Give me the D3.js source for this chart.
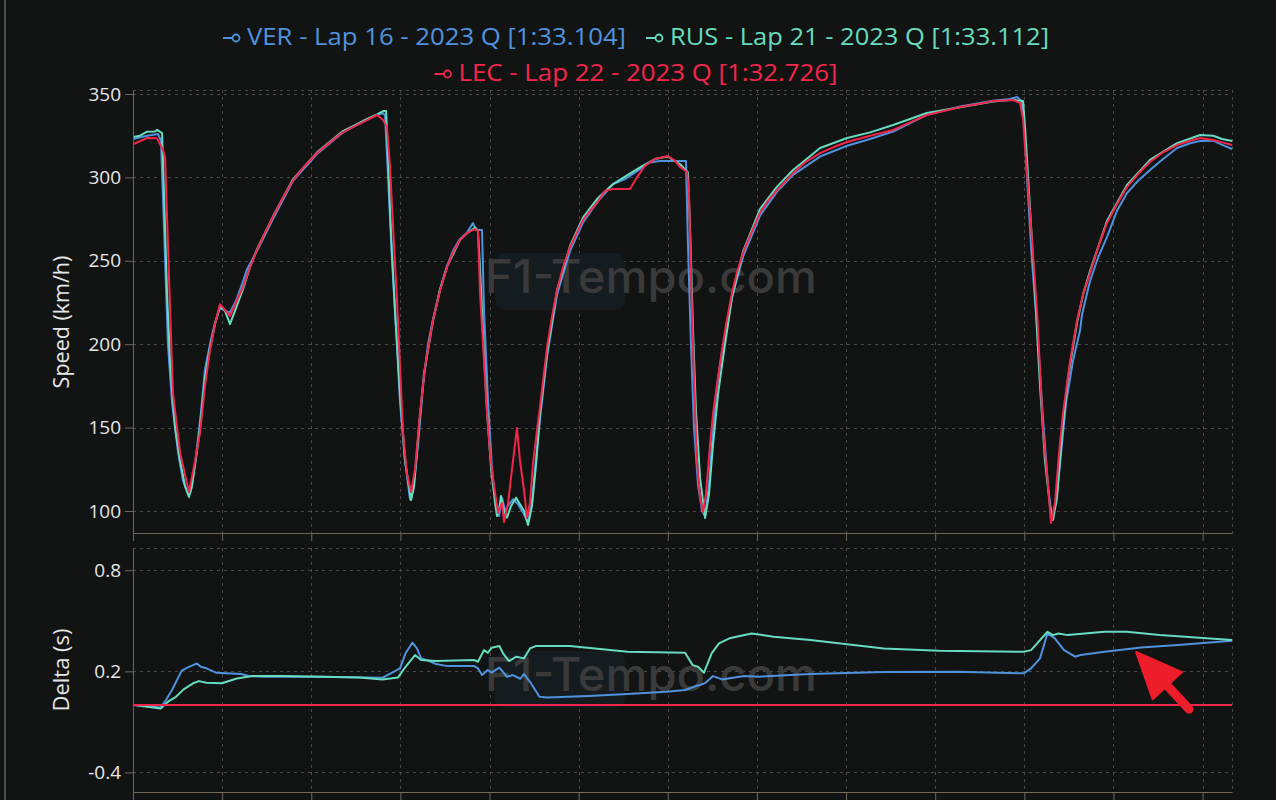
<!DOCTYPE html>
<html><head><meta charset="utf-8">
<script src="https://cdn.jsdelivr.net/npm/d3@7"></script>
<style>html,body{margin:0;padding:0;background:#121414;} svg{display:block;}</style>
</head><body><svg id="c" width="1276" height="800"></svg>
<script>
// ---------------- DATA ----------------
const drivers = ["VER", "RUS", "LEC"];
const legendLabels = ["VER - Lap 16 - 2023 Q [1:33.104]", "RUS - Lap 21 - 2023 Q [1:33.112]", "LEC - Lap 22 - 2023 Q [1:32.726]"];
const speedTicks = [100, 150, 200, 250, 300, 350];
const deltaTicks = [-0.4, 0.2, 0.8];
const distanceTicks = [0, 500, 1000, 1500, 2000, 2500, 3000, 3500, 4000, 4500, 5000, 5500, 6000];

// [distance m, speed km/h]
const verSpeed = [[0,323],[79,325],[140,326],[157,322],[174,270],[196,200],[219,165],[253,135],[281,118],[309,110],[325,112],[354,133],[382,160],[404,185],[432,200],[460,213],[488,222],[516,220],[544,219],[578,226],[612,236],[640,245],[696,256],[785,275],[898,298],[1032,314],[1178,327],[1290,333.5],[1369,337.5],[1403,338.5],[1414,337],[1431,300],[1453,250],[1475,210],[1498,165],[1526,130],[1554,107],[1571,112],[1599,140],[1627,175],[1655,200],[1683,215],[1722,233],[1762,247],[1795,256],[1834,263],[1874,267],[1907,272.7],[1924,268.5],[1958,268.5],[1969,220],[1992,165],[2014,125],[2036,103],[2053,97],[2070,108],[2087,100],[2109,104],[2132,107],[2160,104],[2188,99],[2216,93],[2238,105],[2255,125],[2283,155],[2323,193],[2379,230],[2452,256],[2525,273],[2603,285],[2693,296],[2760,299],[2844,305],[2900,309],[2956,309.8],[3102,309.8],[3113,260],[3130,200],[3147,150],[3170,115],[3192,100],[3209,97],[3231,115],[3254,150],[3276,175],[3304,195],[3360,228],[3422,252.5],[3517,277],[3613,291.5],[3703,301.5],[3854,312.5],[4006,319],[4135,323],[4264,327.5],[4453,337.5],[4640,342.5],[4825,346],[4920,347],[4960,348.2],[4982,346],[4998,335],[5015,300],[5043,250],[5072,210],[5105,155],[5133,115],[5155,95],[5178,105],[5200,128],[5234,165],[5273,190],[5313,208.5],[5324,218],[5369,238],[5414,252],[5464,264.3],[5520,280],[5576,290.6],[5638,298],[5705,304.4],[5778,311],[5857,317.6],[5930,320.5],[5986,321.8],[6059,322],[6110,319.5],[6166,317]];

const rusSpeed = [[0,324.2],[39,325],[79,327.4],[123,327.5],[135,328.5],[163,326.6],[174,290],[191,230],[208,190],[236,150],[264,130],[292,115],[314,108.4],[331,115],[354,132],[376,150],[404,180],[432,198],[460,212],[488,223],[516,220],[544,212],[572,220],[617,233],[656,246],[696,257],[785,276.5],[898,299],[1032,315],[1178,327.8],[1290,333.8],[1369,337.8],[1403,339.8],[1420,339.8],[1431,310],[1448,265],[1470,220],[1498,170],[1526,130],[1560,106.6],[1577,115],[1604,150],[1632,182],[1683,214],[1722,232.5],[1762,246.5],[1834,262.5],[1874,266.5],[1901,268.5],[1919,270],[1935,268],[1947,245],[1964,205],[1986,160],[2009,125],[2031,105],[2042,97],[2053,100],[2064,109],[2081,100],[2098,96],[2121,103],[2149,108],[2171,104],[2194,100],[2216,91.6],[2238,103],[2261,128],[2283,158],[2323,195],[2379,232.5],[2452,259],[2525,276],[2603,287],[2693,296],[2760,300.5],[2844,306],[2928,311],[3001,312.5],[3068,308],[3113,303],[3125,270],[3141,210],[3158,160],[3181,120],[3209,95.8],[3231,110],[3254,140],[3282,170],[3310,192],[3360,228],[3422,255.5],[3517,281],[3613,294.5],[3703,304.4],[3854,317.6],[4006,323.6],[4135,327],[4264,331.4],[4453,338.6],[4640,342],[4825,345.5],[4937,346.5],[4993,345.8],[5004,330],[5027,290],[5055,240],[5088,175],[5116,130],[5144,103],[5161,94.6],[5183,108],[5211,145],[5245,180],[5296,213],[5330,230],[5369,244],[5464,274],[5576,295.5],[5705,310.5],[5857,320.5],[5986,325.4],[6059,325],[6110,323],[6166,321.8]];

const lecSpeed = [[0,319.8],[79,323.6],[135,323.4],[168,316.4],[180,312],[202,240],[224,170.8],[264,135],[314,111.4],[348,130],[376,146.8],[404,175],[432,196.5],[460,212],[488,224],[544,216.9],[578,225],[617,234.3],[656,246],[696,256.5],[741,267],[785,276.3],[842,288],[898,298.4],[965,307],[1032,314.6],[1105,321],[1178,327.2],[1290,333.2],[1369,337.4],[1403,334.4],[1425,330],[1442,306],[1459,270],[1481,226.5],[1515,146.7],[1537,122],[1560,111.4],[1582,125],[1610,158.8],[1638,186.3],[1683,214.5],[1722,232],[1762,246.3],[1795,255],[1834,262.5],[1874,266.7],[1919,269],[1935,268],[1947,230],[1969,190],[1986,158.8],[2003,135],[2020,118.6],[2048,98.8],[2070,104.8],[2081,93.4],[2104,104.8],[2126,125],[2154,149.8],[2171,130],[2194,112],[2210,96],[2227,105],[2244,128.8],[2266,148],[2283,162.4],[2323,198.4],[2351,217],[2379,232.5],[2412,246],[2452,258.3],[2491,267],[2525,274.5],[2564,280],[2603,284.7],[2648,292],[2693,293],[2788,293],[2827,300],[2872,307],[2928,311],[3001,312.8],[3041,310],[3068,306.3],[3108,303.2],[3119,290],[3136,218.7],[3147,180],[3164,128.8],[3181,108],[3198,99.4],[3214,110],[3237,140],[3254,158.7],[3293,188.7],[3327,212],[3360,230.7],[3388,243],[3422,254.7],[3461,265],[3517,278.7],[3562,286],[3613,292.4],[3703,302.6],[3770,309],[3854,314.6],[3938,318.5],[4006,321.2],[4135,325],[4264,328.4],[4359,333],[4453,337.4],[4554,340],[4640,342.2],[4741,344],[4825,345.8],[4937,346.4],[4976,344.6],[4993,335],[5004,318],[5032,278.7],[5072,218.7],[5105,148.6],[5127,122.8],[5150,92.8],[5172,105],[5195,135],[5217,158.7],[5257,190],[5296,214.5],[5330,230],[5369,242.7],[5414,258],[5464,272.7],[5520,284],[5576,294.2],[5638,302],[5705,309.2],[5778,315],[5857,319.4],[5930,322],[5986,323.6],[6059,322.4],[6110,321],[6166,319.4]];

// [distance m, delta s] relative to LEC
const verDelta = [[6,0],[155,-0.014],[185,0.03],[219,0.089],[273,0.204],[305,0.222],[359,0.247],[380,0.227],[412,0.218],[466,0.192],[606,0.184],[649,0.172],[735,0.168],[1055,0.168],[1400,0.162],[1464,0.198],[1498,0.218],[1529,0.307],[1567,0.37],[1593,0.336],[1616,0.277],[1658,0.263],[1700,0.243],[1765,0.231],[1915,0.231],[1935,0.218],[1958,0.178],[1990,0.208],[2012,0.192],[2055,0.222],[2098,0.168],[2130,0.178],[2173,0.156],[2193,0.184],[2227,0.138],[2280,0.049],[2322,0.045],[2558,0.053],[2774,0.065],[2990,0.079],[3097,0.089],[3158,0.113],[3181,0.119],[3212,0.132],[3254,0.172],[3304,0.152],[3428,0.172],[3511,0.168],[3798,0.184],[4212,0.196],[4623,0.198],[4996,0.188],[5038,0.218],[5088,0.277],[5130,0.425],[5171,0.396],[5223,0.326],[5285,0.287],[5315,0.297],[5450,0.316],[5655,0.342],[5862,0.356],[6165,0.382]];

const rusDelta = [[6,0],[155,-0.02],[196,0.02],[241,0.049],[284,0.093],[337,0.129],[370,0.142],[412,0.132],[498,0.129],[583,0.158],[670,0.172],[841,0.172],[1271,0.164],[1400,0.152],[1487,0.164],[1529,0.227],[1582,0.297],[1616,0.267],[1700,0.261],[1915,0.267],[1935,0.257],[1969,0.326],[1990,0.31],[2012,0.34],[2055,0.35],[2076,0.307],[2109,0.261],[2151,0.287],[2193,0.277],[2227,0.336],[2259,0.35],[2451,0.35],[2774,0.316],[3097,0.31],[3139,0.237],[3170,0.227],[3203,0.192],[3246,0.307],[3287,0.366],[3346,0.396],[3470,0.425],[3593,0.405],[3800,0.386],[4212,0.336],[4522,0.322],[4996,0.316],[5038,0.326],[5130,0.435],[5161,0.415],[5192,0.425],[5243,0.415],[5450,0.435],[5574,0.435],[5759,0.415],[6165,0.386]];

const lecDelta = [[0,0],[6165,0]];

// annotation arrow (tip, tail) in data units of the delta panel
const arrowTip = [5627, 0.315];
const arrowTail = [5924, -0.024];

// ---------------- STYLE / LAYOUT ----------------
const colors = {VER: "#4f93df", RUS: "#67dcbf", LEC: "#f2264b"};
const bg = "#121414", gridC = "#4a4a4a", axisC = "#6f675c", textC = "#e6e6e6";
const fontF = "'Open Sans', 'Noto Sans', sans-serif";
const L = 133, R = 1232;
const sp = {top: 90, bottom: 533};
const dp = {top: 548, bottom: 792};

const svg = d3.select("#c");
svg.append("rect").attr("width", 1276).attr("height", 800).attr("fill", bg);
svg.append("line").attr("x1", 5).attr("x2", 5).attr("y1", 0).attr("y2", 800)
  .attr("stroke", "#4d4d4d").attr("stroke-width", 2);

const x = d3.scaleLinear().domain([0, 6165]).range([L, R]);
const yS = d3.scaleLinear().domain([86.8, 352.4]).range([sp.bottom, sp.top]);
const yD = d3.scaleLinear().domain([-0.516, 0.932]).range([dp.bottom, dp.top]);

function watermark(cy) {
  const g = svg.append("g");
  g.append("rect").attr("x", 495).attr("y", cy - 24).attr("width", 130).attr("height", 57)
    .attr("rx", 10).attr("fill", "#141c20");
  g.append("text").attr("x", 485).attr("y", cy + 16).attr("font-family", "Inter, 'Open Sans', sans-serif")
    .attr("font-weight", 500).attr("font-size", 46).attr("fill", "#3a3a3a")
    .attr("textLength", 332).attr("lengthAdjust", "spacingAndGlyphs").text("F1-Tempo.com");
}

function panel(y, ticks, top, bottom) {
  const g = svg.append("g");
  g.selectAll(".hg").data(ticks).join("line")
    .attr("x1", L).attr("x2", R).attr("y1", d => Math.round(y(d)) + 0.5).attr("y2", d => Math.round(y(d)) + 0.5)
    .attr("stroke", gridC).attr("stroke-dasharray", "3,4");
  g.selectAll(".vg").data(distanceTicks.filter(d => d > 0)).join("line")
    .attr("x1", d => Math.round(x(d)) + 0.5).attr("x2", d => Math.round(x(d)) + 0.5).attr("y1", top).attr("y2", bottom)
    .attr("stroke", gridC).attr("stroke-dasharray", "3,4");
  g.append("line").attr("x1", L).attr("x2", R).attr("y1", top + 0.5).attr("y2", top + 0.5)
    .attr("stroke", gridC).attr("stroke-dasharray", "3,4");
  g.append("line").attr("x1", R + 0.5).attr("x2", R + 0.5).attr("y1", top).attr("y2", bottom)
    .attr("stroke", gridC).attr("stroke-dasharray", "3,4");
  return g;
}

function axes(y, ticks, bottom, fmt) {
  const ya = svg.append("g").attr("transform", `translate(${L},0)`)
    .call(d3.axisLeft(y).tickValues(ticks).tickSize(8).tickSizeOuter(0).tickPadding(4).tickFormat(fmt));
  ya.selectAll("path,line").attr("stroke", axisC);
  ya.selectAll("text").attr("fill", textC).attr("font-size", 19).attr("font-family", fontF);
  const xa = svg.append("g").attr("transform", `translate(0,${bottom})`)
    .call(d3.axisBottom(x).tickValues(distanceTicks).tickSize(8).tickSizeOuter(0).tickFormat(""));
  xa.selectAll("path,line").attr("stroke", axisC);
}

panel(yS, speedTicks, sp.top, sp.bottom);
panel(yD, deltaTicks, dp.top, dp.bottom);
watermark(277);
watermark(675);

const lineS = d3.line().x(d => x(d[0])).y(d => yS(d[1]));
const lineD = d3.line().x(d => x(d[0])).y(d => yD(d[1]));

const speedSets = {VER: verSpeed, RUS: rusSpeed, LEC: lecSpeed};
const deltaSets = {VER: verDelta, RUS: rusDelta, LEC: lecDelta};

svg.append("clipPath").attr("id", "cs").append("rect")
  .attr("x", L).attr("y", sp.top).attr("width", R - L + 1).attr("height", sp.bottom - sp.top);
svg.append("clipPath").attr("id", "cd").append("rect")
  .attr("x", L).attr("y", dp.top).attr("width", R - L + 1).attr("height", dp.bottom - dp.top);

const gS = svg.append("g").attr("clip-path", "url(#cs)");
const gD = svg.append("g").attr("clip-path", "url(#cd)");
drivers.forEach(k => {
  gS.append("path").datum(speedSets[k]).attr("d", lineS).attr("fill", "none")
    .attr("stroke", colors[k]).attr("stroke-width", 2).attr("stroke-linejoin", "round");
  gD.append("path").datum(deltaSets[k]).attr("d", lineD).attr("fill", "none")
    .attr("stroke", colors[k]).attr("stroke-width", 2).attr("stroke-linejoin", "round");
});

axes(yS, speedTicks, sp.bottom, d => String(d));
axes(yD, deltaTicks, dp.bottom, d => d.toFixed(1));

// axis titles
svg.append("text").attr("transform", `translate(69,322) rotate(-90)`)
  .attr("text-anchor", "middle").attr("fill", textC).attr("font-size", 21.5).attr("font-family", fontF)
  .text("Speed (km/h)");
svg.append("text").attr("transform", `translate(69,${(dp.top + dp.bottom) / 2}) rotate(-90)`)
  .attr("text-anchor", "middle").attr("fill", textC).attr("font-size", 22).attr("font-family", fontF)
  .text("Delta (s)");

// legend
const legendRows = [[0, 1], [2]];
const itemW = 24 + 379, gap = 20;
legendRows.forEach((row, ri) => {
  const total = row.length * itemW + (row.length - 1) * gap;
  let x0 = 636 - total / 2;
  const base = 45 + ri * 36;
  row.forEach(i => {
    const c = colors[drivers[i]];
    svg.append("line").attr("x1", x0).attr("x2", x0 + 13).attr("y1", base - 7).attr("y2", base - 7)
      .attr("stroke", c).attr("stroke-width", 2);
    svg.append("circle").attr("cx", x0 + 13).attr("cy", base - 7).attr("r", 3.5)
      .attr("fill", bg).attr("stroke", c).attr("stroke-width", 1.8);
    svg.append("text").attr("x", x0 + 24).attr("y", base).attr("fill", c)
      .attr("font-size", 24).attr("font-family", fontF)
      .attr("textLength", 379).attr("lengthAdjust", "spacingAndGlyphs")
      .text(legendLabels[i]);
    x0 += itemW + gap;
  });
});

// arrow annotation
(function () {
  const tx = x(arrowTip[0]), ty = yD(arrowTip[1]);
  const ex = x(arrowTail[0]), ey = yD(arrowTail[1]);
  const dx = ex - tx, dy = ey - ty, len = Math.hypot(dx, dy);
  const ux = dx / len, uy = dy / len, nx = -uy, ny = ux;
  const hl = 46, hw = 20;
  const bx = tx + ux * hl, by = ty + uy * hl;
  const red = "#ee1d2a";
  svg.append("line").attr("x1", bx - ux * 6).attr("y1", by - uy * 6).attr("x2", ex).attr("y2", ey)
    .attr("stroke", red).attr("stroke-width", 9).attr("stroke-linecap", "round");
  svg.append("path").attr("d", `M${tx},${ty}L${bx + nx * hw},${by + ny * hw}L${bx - nx * hw},${by - ny * hw}Z`)
    .attr("fill", red).attr("stroke", red).attr("stroke-width", 2).attr("stroke-linejoin", "round");
})();
</script></body></html>
